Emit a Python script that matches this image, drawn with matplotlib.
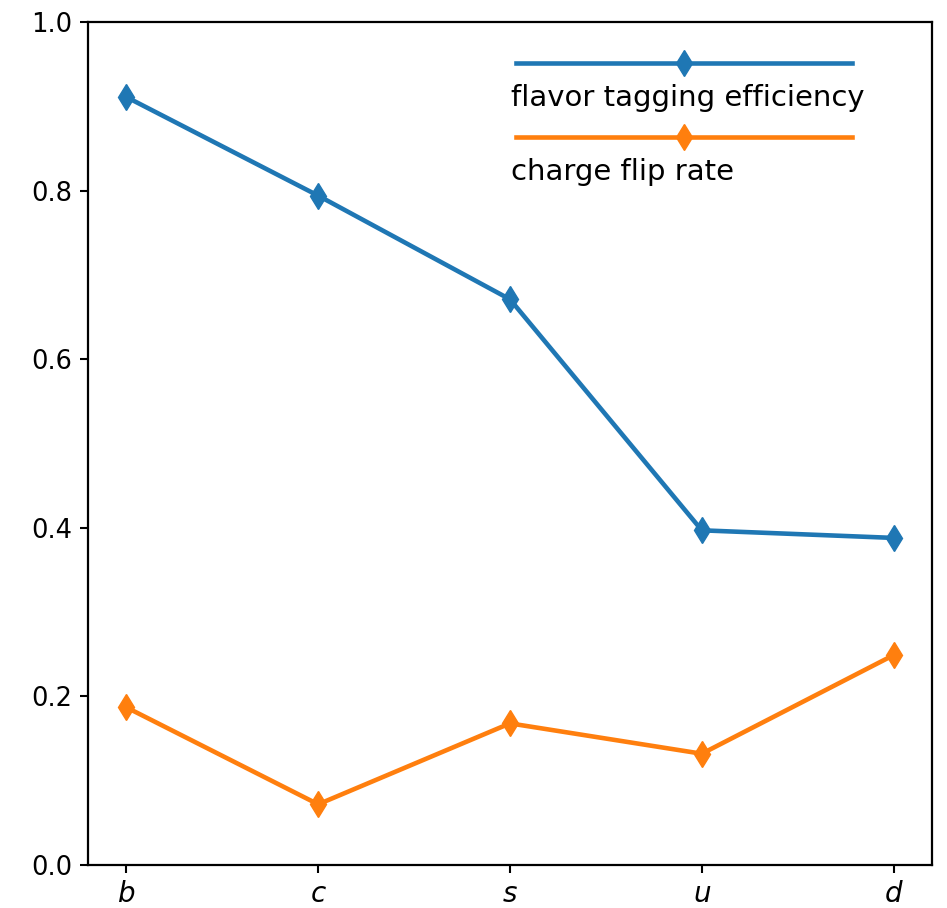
import matplotlib
matplotlib.use("Agg")
import matplotlib.pyplot as plt

flavors = ["b", "c", "s", "u", "d"]
tick_labels = ["$b$", "$c$", "$s$", "$u$", "$d$"]
tagging_eff = [0.911, 0.794, 0.671, 0.397, 0.388]
charge_flip = [0.187, 0.072, 0.168, 0.132, 0.249]
series_labels = ["flavor tagging efficiency", "charge flip rate"]

DPI = 100
fig = plt.figure(figsize=(9.47, 9.08), dpi=DPI)
ax = fig.add_axes([88 / 947, 1 - 865 / 908, 844 / 947, 843 / 908])

x = list(range(len(flavors)))
l1, = ax.plot(x, tagging_eff, marker="d", color="#1f77b4", lw=3.3, ms=13)
l2, = ax.plot(x, charge_flip, marker="d", color="#ff7f0e", lw=3.3, ms=13)

ax.set_ylim(0, 1.0)
ax.set_xlim(-0.2, 4.2)
ax.set_xticks(x)
ax.set_xticklabels(tick_labels, fontsize=20)
ax.set_yticks([0.0, 0.2, 0.4, 0.6, 0.8, 1.0])
ax.tick_params(axis="y", labelsize=18.5, length=6, width=1.5, pad=5.5)
ax.tick_params(axis="x", length=6, width=1.5, pad=4.5)
for s in ax.spines.values():
    s.set_linewidth(1.6)

fs_pt = 21
fs_px = fs_pt * DPI / 72
hl_px = 336
hl = hl_px / fs_px
leg = ax.legend([l1, l2], series_labels, frameon=False, fontsize=fs_pt,
                handlelength=hl, handletextpad=-(hl_px + 5) / fs_px,
                labelspacing=1.59, loc="upper left", borderpad=0,
                borderaxespad=0, bbox_to_anchor=((516 - 88) / 844, 1 - (51 - 22) / 843))
for t in leg.get_texts():
    t.set_position((0, -33))

fig.savefig("out.png", dpi=DPI)
